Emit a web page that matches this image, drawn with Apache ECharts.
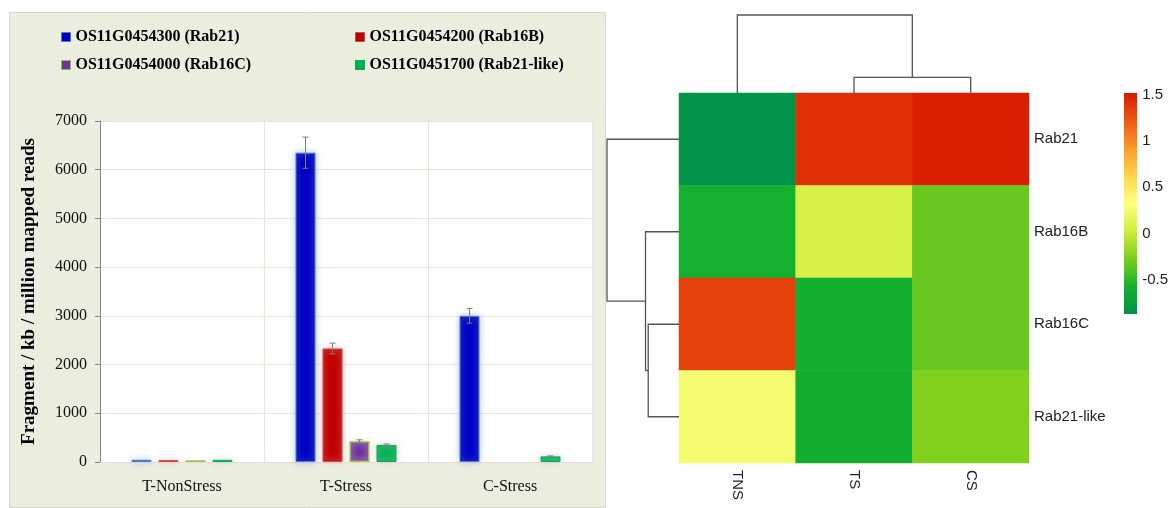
<!DOCTYPE html>
<html>
<head>
<meta charset="utf-8">
<script src="https://cdn.jsdelivr.net/npm/echarts@6/dist/echarts.min.js"></script>
<style>
html, body { margin: 0; padding: 0; background: #fff; }
#chart { width: 1171px; height: 508px; }
</style>
</head>
<body>
<div id="chart"></div>
<script>
// ---- left panel: expression bars ----
const conditions = ['T-NonStress', 'T-Stress', 'C-Stress']
const geneNames = ['OS11G0454300 (Rab21)', 'OS11G0454200 (Rab16B)', 'OS11G0454000 (Rab16C)', 'OS11G0451700 (Rab21-like)']
const rab21 = [45, 6350, 3000]
const rab16B = [40, 2330, null]
const rab16C = [35, 425, null]
const rab21like = [45, 350, 115]
const rab21Err = [0, 320, 150]
const rab16BErr = [0, 110, 0]
const rab16CErr = [0, 30, 0]
const rab21likeErr = [0, 20, 10]
const yMax = 7000
const yStep = 1000

// ---- right panel: heatmap + dendrograms ----
const hmCols = ['TNS', 'TS', 'CS']
const hmRows = ['Rab21', 'Rab16B', 'Rab16C', 'Rab21-like']
const zRab21 = [-0.85, 1.42, 1.5]
const zRab16B = [-0.57, 0.08, -0.33]
const zRab16C = [1.34, -0.58, -0.33]
const zRab21like = [0.25, -0.6, -0.25]
// hclust style merges (negative = leaf, positive = earlier merge)
const colMerge = [[-2, -3], [-1, 1]]
const colHeight = [0.8, 4.0]
const rowMerge = [[-3, -4], [-2, 1], [-1, 2]]
const rowHeight = [1.71, 1.86, 4.0]
const scaleMin = -0.87
const scaleMax = 1.52
const scaleTicks = [-0.5, 0, 0.5, 1, 1.5]
const scaleColors = ['#00924a', '#14b030', '#7cce1c', '#cfee3c', '#ffff80', '#fed648', '#f99a2a', '#ee5a12', '#d81a00']

const SERIF = "'Liberation Serif', 'Times New Roman', serif"
const SANS = "'Liberation Sans', Arial, sans-serif"
const BAR_W = 20
const BAR_GAP = 7

const barVals = [rab21, rab16B, rab16C, rab21like]
const barErrs = [rab21Err, rab16BErr, rab16CErr, rab21likeErr]
const barStyles = [
  { color: '#0000c4', borderColor: '#4f81bd', borderWidth: 1, shadowColor: '#9dc0ea' },
  { color: '#c00000', borderColor: '#c0504d', borderWidth: 1, shadowColor: '#f4bcbc' },
  { color: '#7030a0', borderColor: '#9bbb59', borderWidth: 1.5, shadowColor: '#dfe9c6' },
  { color: '#00b050', borderColor: '#00b050', borderWidth: 1, shadowColor: '#d6cce2' },
]

function treeLinks(merge, height) {
  const pos = []
  const node = k => k < 0 ? { p: -k - 1, h: 0 } : { p: pos[k - 1], h: height[k - 1] }
  return merge.map(([a, b], i) => {
    const A = node(a), B = node(b)
    pos.push((A.p + B.p) / 2)
    return [A.p, A.h, B.p, B.h, height[i]]
  })
}

function treeSeries(links, grid, horizontal) {
  return {
    type: 'custom', xAxisIndex: grid, yAxisIndex: grid, silent: true,
    data: links,
    renderItem(params, api) {
      const [pa, ha, pb, hb, h] = [0, 1, 2, 3, 4].map(i => api.value(i))
      const pt = (p, v) => api.coord(horizontal ? [v, p] : [p, v])
      return {
        type: 'polyline',
        shape: { points: [pt(pa, ha), pt(pa, h), pt(pb, h), pt(pb, hb)] },
        style: { stroke: '#555', lineWidth: 1.3, fill: 'none' },
      }
    },
  }
}

const series = []
barVals.forEach((vals, i) => {
  series.push({
    name: geneNames[i], type: 'bar', xAxisIndex: 0, yAxisIndex: 0,
    barWidth: BAR_W, barGap: (BAR_GAP / BAR_W * 100) + '%',
    data: vals,
    itemStyle: { ...barStyles[i], shadowBlur: 6 },
  })
})
barVals.forEach((vals, i) => {
  const offset = (i - 1.5) * (BAR_W + BAR_GAP)
  series.push({
    type: 'custom', xAxisIndex: 0, yAxisIndex: 0, z: 5, silent: true,
    data: vals.map((v, c) => [c, v, barErrs[i][c]]).filter(d => d[1] != null && d[2] > 0),
    renderItem(params, api) {
      const x = api.coord([api.value(0), 0])[0] + offset
      const y1 = api.coord([api.value(0), api.value(1) + api.value(2)])[1]
      const y2 = api.coord([api.value(0), api.value(1) - api.value(2)])[1]
      const st = { stroke: '#7f7f7f', lineWidth: 1 }
      return {
        type: 'group', children: [
          { type: 'line', shape: { x1: x, y1, x2: x, y2 }, style: st },
          { type: 'line', shape: { x1: x - 3, y1, x2: x + 3, y2: y1 }, style: st },
          { type: 'line', shape: { x1: x - 3, y1: y2, x2: x + 3, y2 }, style: st },
        ],
      }
    },
  })
})

const hmIndex = series.length
const zRows = [zRab21, zRab16B, zRab16C, zRab21like]
series.push({
  type: 'heatmap', xAxisIndex: 1, yAxisIndex: 1,
  data: zRows.flatMap((row, r) => row.map((v, c) => [c, r, v])),
})
series.push(treeSeries(treeLinks(colMerge, colHeight), 2, false))
series.push(treeSeries(treeLinks(rowMerge, rowHeight), 3, true))
series.push({
  type: 'custom', xAxisIndex: 4, yAxisIndex: 4, silent: true,
  data: [[0, scaleMin, 1, scaleMax]],
  renderItem(params, api) {
    const p0 = api.coord([api.value(0), api.value(3)])
    const p1 = api.coord([api.value(2), api.value(1)])
    const stops = scaleColors.slice().reverse().map((c, k, a) => ({ offset: k / (a.length - 1), color: c }))
    return {
      type: 'rect',
      shape: { x: p0[0], y: p0[1], width: p1[0] - p0[0], height: p1[1] - p0[1] },
      style: { fill: new echarts.graphic.LinearGradient(0, 0, 0, 1, stops) },
    }
  },
})

const legendText = { fontFamily: SERIF, fontWeight: 'bold', fontSize: 16, color: '#000' }
const legendBase = {
  orient: 'vertical', icon: 'rect', itemWidth: 9, itemHeight: 9, itemGap: 12,
  textStyle: legendText, itemStyle: { shadowBlur: 0, borderWidth: 1 }, selectedMode: false,
}

const chart = echarts.init(document.getElementById('chart'))
chart.setOption({
  backgroundColor: '#fff',
  animation: false,
  graphic: [{
    type: 'rect', z: -10, left: 9, top: 12,
    shape: { width: 596, height: 495 },
    style: { fill: '#ebeedf', stroke: '#d6d8cc', lineWidth: 1 },
  }],
  legend: [
    { ...legendBase, left: 56, top: 24, itemGap: 12, data: [geneNames[0], geneNames[2]] },
    { ...legendBase, left: 350, top: 24, itemGap: 12, data: [geneNames[1], geneNames[3]] },
  ],
  grid: [
    { left: 100, top: 121, width: 492, height: 341, show: true, backgroundColor: '#fff', borderWidth: 0 },
    { left: 679, top: 93, width: 350, height: 370 },
    { left: 679, top: 15, width: 350, height: 78 },
    { left: 607, top: 93, width: 72, height: 370 },
    { left: 1124, top: 93, width: 14, height: 221 },
  ],
  xAxis: [
    {
      gridIndex: 0, type: 'category', data: conditions,
      axisLine: { lineStyle: { color: '#f2d6d6' } }, axisTick: { show: false },
      axisLabel: { fontFamily: SERIF, fontSize: 16, color: '#111', margin: 17 },
      splitLine: { show: true, lineStyle: { color: '#f4dede' } },
    },
    {
      gridIndex: 1, type: 'category', data: hmCols,
      axisLine: { show: false }, axisTick: { show: false },
      axisLabel: { rotate: -90, margin: 7, fontFamily: SANS, fontSize: 15, color: '#222' },
    },
    { gridIndex: 2, type: 'value', min: -0.5, max: hmCols.length - 0.5, show: false },
    { gridIndex: 3, type: 'value', min: 0, max: rowHeight[rowHeight.length - 1], inverse: true, show: false },
    { gridIndex: 4, type: 'value', min: 0, max: 1, show: false },
  ],
  yAxis: [
    {
      gridIndex: 0, type: 'value', min: 0, max: yMax, interval: yStep,
      name: 'Fragment / kb / million mapped reads', nameLocation: 'middle', nameGap: 61,
      nameTextStyle: { fontFamily: SERIF, fontWeight: 'bold', fontSize: 19, color: '#000' },
      axisLine: { show: true, lineStyle: { color: '#868686' } },
      axisTick: { show: true, length: 5, lineStyle: { color: '#868686' } },
      axisLabel: { fontFamily: SERIF, fontSize: 16, color: '#111', margin: 13, formatter: v => String(v) },
      splitLine: { lineStyle: { color: '#f4dede' } },
    },
    {
      gridIndex: 1, type: 'category', data: hmRows, inverse: true, position: 'right',
      axisLine: { show: false }, axisTick: { show: false },
      axisLabel: { margin: 5, fontFamily: SANS, fontSize: 15, color: '#222' },
    },
    { gridIndex: 2, type: 'value', min: 0, max: colHeight[colHeight.length - 1], show: false },
    { gridIndex: 3, type: 'value', min: -0.5, max: hmRows.length - 0.5, inverse: true, show: false },
    {
      gridIndex: 4, type: 'value', min: scaleMin, max: scaleMax, position: 'right',
      axisLine: { show: false }, axisTick: { show: false }, splitLine: { show: false },
      axisLabel: { customValues: scaleTicks, margin: 5, fontFamily: SANS, fontSize: 15, color: '#222' },
    },
  ],
  visualMap: {
    type: 'continuous', show: false, seriesIndex: hmIndex,
    min: scaleMin, max: scaleMax, inRange: { color: scaleColors },
  },
  series,
})
</script>
</body>
</html>
